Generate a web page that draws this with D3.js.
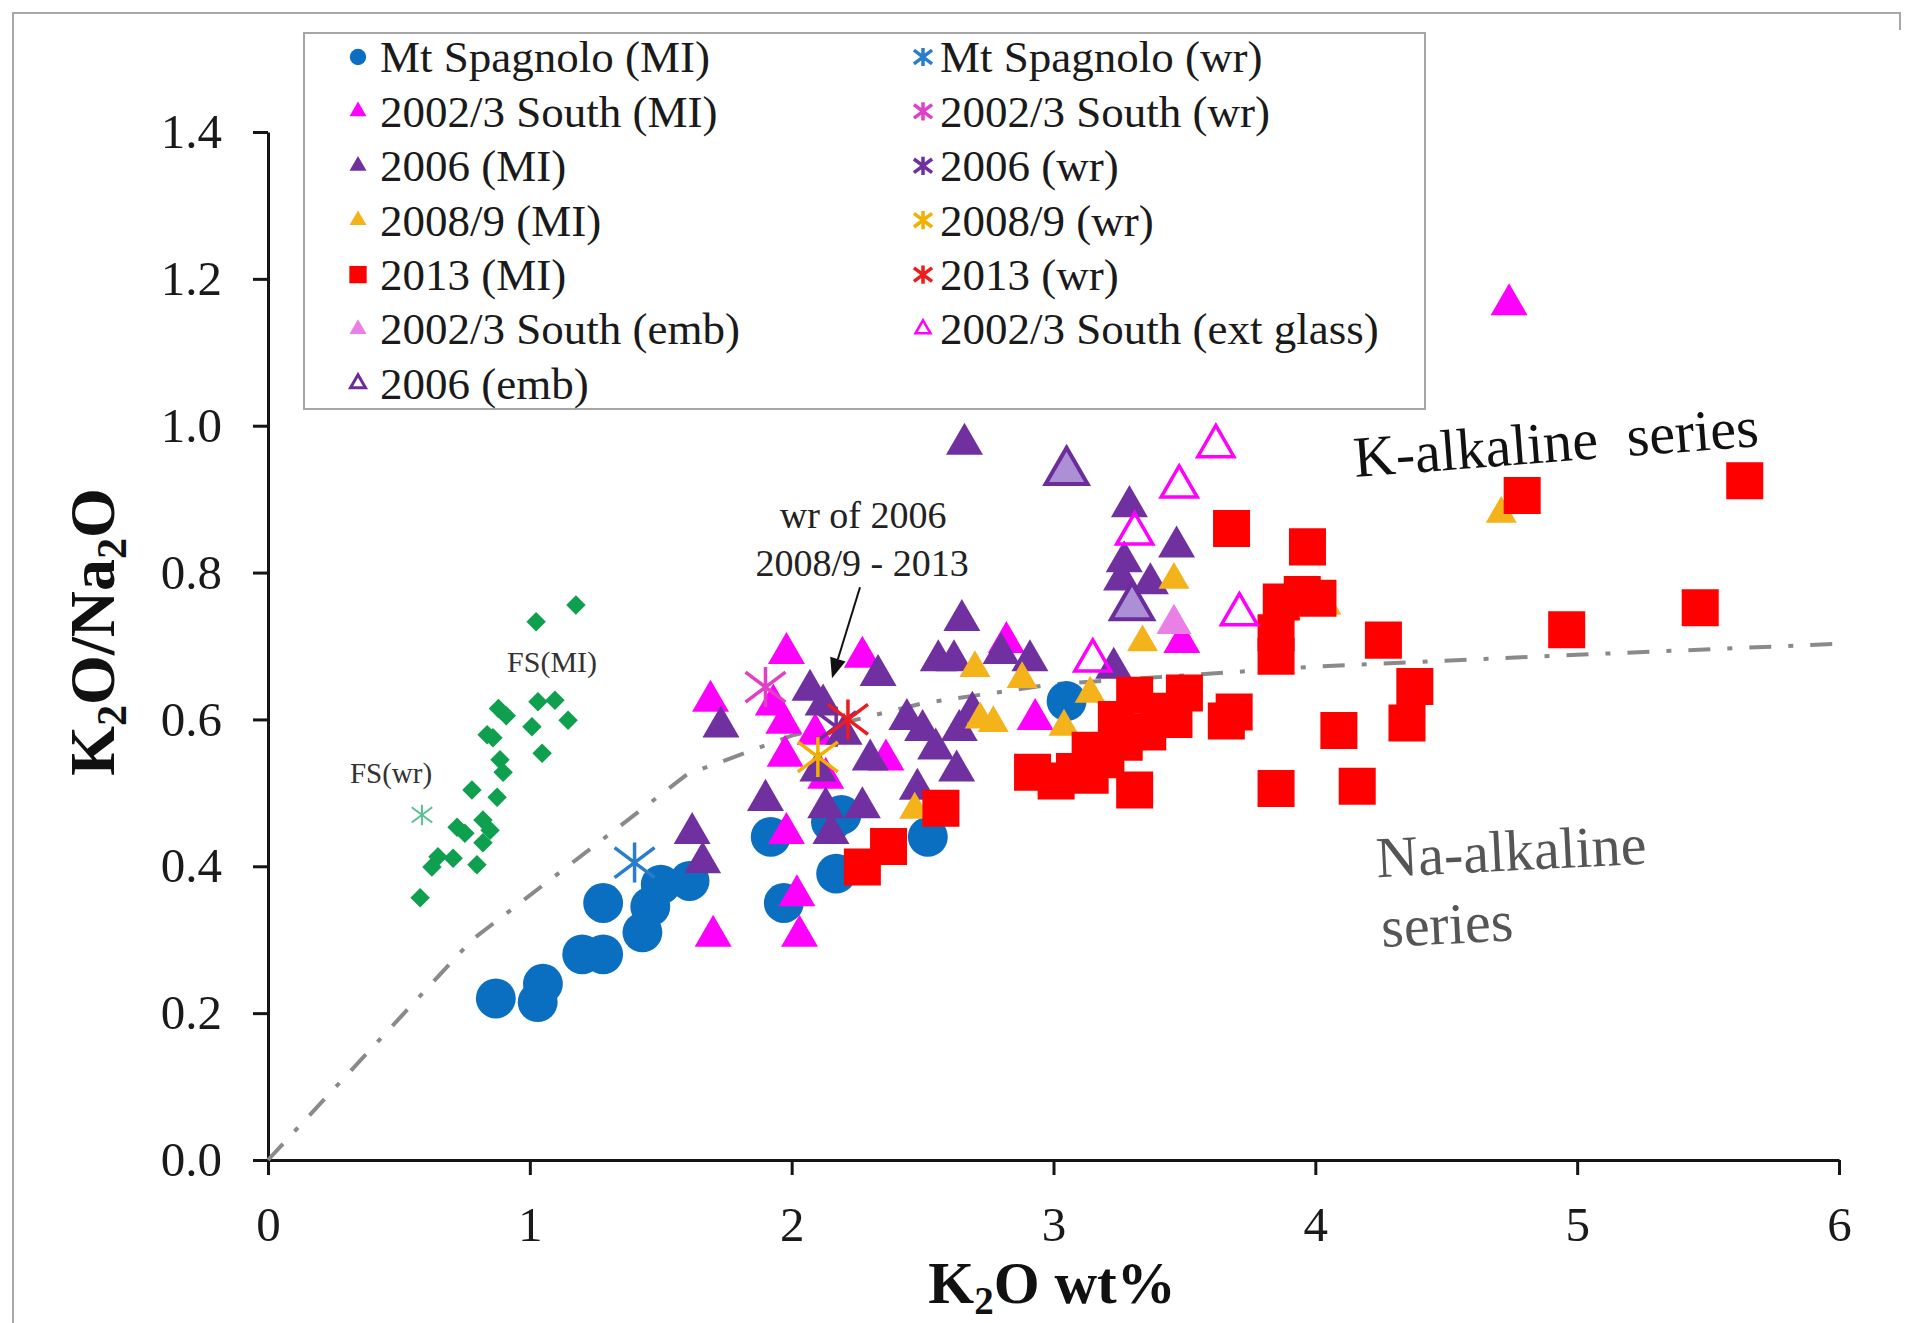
<!DOCTYPE html>
<html>
<head>
<meta charset="utf-8">
<script src="https://cdn.jsdelivr.net/npm/d3@7"></script>
<style>
  html, body { margin: 0; padding: 0; background: #fff; }
  svg { display: block; font-family: "Liberation Serif", "Times New Roman", serif; }
</style>
</head>
<body>
<svg id="chart" width="1914" height="1323"></svg>
<script>
// ---- axis ticks ----
const xTicks = [0, 1, 2, 3, 4, 5, 6];
const yTicks = [0, 0.2, 0.4, 0.6, 0.8, 1.0, 1.2, 1.4];

// ---- series values: [K2O wt%, K2O/Na2O] ----
const mtSpagnoloMI = [[0.87,0.22],[1.03,0.215],[1.05,0.24],[1.20,0.28],[1.28,0.28],[1.28,0.35],[1.43,0.31],[1.46,0.345],[1.50,0.375],[1.61,0.38],[1.92,0.44],[1.97,0.35],[2.17,0.39],[2.19,0.47],[2.15,0.46],[2.52,0.44],[3.05,0.625]];
const mtSpagnoloWR = [[1.40,0.405]];
const south0203MI = [[4.74,1.165],[1.69,0.625],[1.70,0.305],[1.98,0.69],[1.97,0.595],[1.975,0.55],[1.98,0.445],[2.02,0.36],[2.03,0.305],[2.27,0.685],[2.36,0.545],[2.09,0.58],[2.82,0.705],[2.93,0.60],[3.49,0.705],[2.13,0.52],[1.93,0.62]];
const south0203WR = [[1.90,0.644]];
const y2006MI = [[2.66,0.975],[3.29,0.89],[3.47,0.835],[3.27,0.815],[3.26,0.79],[3.37,0.785],[2.65,0.735],[1.73,0.59],[1.62,0.445],[1.66,0.405],[2.07,0.64],[2.33,0.66],[2.56,0.68],[2.62,0.68],[2.91,0.68],[2.44,0.60],[2.50,0.585],[2.64,0.585],[2.55,0.56],[2.30,0.545],[2.10,0.53],[2.63,0.53],[1.90,0.49],[2.13,0.48],[2.27,0.48],[2.48,0.505],[2.15,0.445],[2.69,0.61],[2.20,0.58],[2.80,0.69],[3.23,0.67],[2.12,0.62]];
const y2006WR = [[2.17,0.59]];
const y2008MI = [[4.71,0.88],[3.46,0.79],[3.34,0.705],[2.70,0.67],[2.88,0.655],[2.72,0.60],[2.77,0.595],[3.14,0.635],[3.04,0.59],[2.47,0.477],[4.04,0.755]];
const y2008WR = [[2.10,0.549]];
const y2013MI = [[4.79,0.905],[5.64,0.925],[3.68,0.86],[3.97,0.835],[3.95,0.77],[4.01,0.765],[3.87,0.76],[3.85,0.718],[3.85,0.686],[4.26,0.708],[4.96,0.722],[5.47,0.752],[4.38,0.645],[4.35,0.595],[4.09,0.585],[3.66,0.598],[3.69,0.61],[3.85,0.506],[4.16,0.509],[3.46,0.60],[3.50,0.636],[3.31,0.633],[3.40,0.611],[3.27,0.569],[3.14,0.558],[3.24,0.60],[3.31,0.504],[3.08,0.529],[3.01,0.516],[2.92,0.528],[3.14,0.524],[2.57,0.479],[2.37,0.427],[2.27,0.399],[3.36,0.583],[3.20,0.545]];
const y2013WR = [[2.215,0.60]];
const south0203Emb = [[3.46,0.73]];
const y2006Emb = [[3.05,0.937],[3.30,0.753]];
const south0203ExtGlass = [[3.62,0.972],[3.48,0.917],[3.31,0.853],[3.71,0.743],[3.15,0.68]];
const fsMI = [[1.176,0.756],[1.024,0.733],[0.88,0.615],[0.91,0.605],[1.031,0.624],[1.096,0.626],[1.008,0.590],[1.146,0.599],[0.837,0.579],[0.859,0.575],[1.047,0.554],[0.886,0.545],[0.898,0.528],[0.779,0.504],[0.875,0.494],[0.821,0.463],[0.722,0.453],[0.752,0.445],[0.848,0.449],[0.821,0.432],[0.649,0.413],[0.707,0.411],[0.626,0.399],[0.798,0.402],[0.581,0.357]];
const fsWR = [[0.588,0.470]];

// K-alkaline / Na-alkaline divide
const divideLine = [[0,0],[0.78,0.30],[1.6,0.525],[2.0,0.578],[2.5,0.622],[3,0.648],[4,0.672],[5,0.688],[6,0.703]];

// ---- scales ----
const svg = d3.select("#chart");
const x = d3.scaleLinear().domain([0, 6]).range([268, 1839]);
const y = d3.scaleLinear().domain([0, 1.4]).range([1160, 132]);

// ---- symbol helpers ----
const triArea = w => w * w * Math.sqrt(3) / 4;
const asterisk = {
  draw(ctx, size) {
    const r = Math.sqrt(size) / 2;
    ctx.moveTo(0, -r); ctx.lineTo(0, r);
    ctx.moveTo(-r, -r * 0.75); ctx.lineTo(r, r * 0.75);
    ctx.moveTo(-r, r * 0.75); ctx.lineTo(r, -r * 0.75);
  }
};
const diamond = {
  draw(ctx, size) {
    const h = Math.sqrt(size) / 2;
    ctx.moveTo(0, -h); ctx.lineTo(h, 0); ctx.lineTo(0, h); ctx.lineTo(-h, 0); ctx.closePath();
  }
};

// ---- outer frame (top and left edges, short drop at top right) ----
svg.append("path").attr("d", "M13,1323V13H1900V30")
  .attr("fill", "none").attr("stroke", "#a8a8a8").attr("stroke-width", 2);

// ---- axes ----
const gx = svg.append("g").attr("transform", `translate(0,${y(0)})`)
  .call(d3.axisBottom(x).tickValues(xTicks).tickFormat(d3.format("d"))
    .tickSize(15).tickSizeOuter(0).tickPadding(31));
const gy = svg.append("g").attr("transform", `translate(${x(0)},0)`)
  .call(d3.axisLeft(y).tickValues(yTicks).tickFormat(d3.format(".1f"))
    .tickSize(15).tickSizeOuter(0).tickPadding(31));
[gx, gy].forEach(g => {
  g.attr("font-family", "Liberation Serif, Times New Roman, serif").attr("font-size", 49);
  g.select(".domain").attr("stroke", "#151515").attr("stroke-width", 3);
  g.selectAll(".tick line").attr("stroke", "#151515").attr("stroke-width", 3);
  g.selectAll(".tick text").attr("fill", "#1a1a1a");
});

// ---- axis titles ----
const xt = svg.append("text").attr("x", 1052).attr("y", 1303).attr("text-anchor", "middle")
  .attr("font-size", 59).attr("font-weight", "bold").attr("fill", "#111");
xt.append("tspan").text("K");
xt.append("tspan").text("2").attr("font-size", 39).attr("dy", 11);
xt.append("tspan").text("O wt%").attr("dy", -11);

const yt = svg.append("text").attr("transform", "translate(114,632) rotate(-90)")
  .attr("text-anchor", "middle").attr("font-size", 64).attr("font-weight", "bold").attr("fill", "#111");
yt.append("tspan").text("K");
yt.append("tspan").text("2").attr("font-size", 42).attr("dy", 12);
yt.append("tspan").text("O/Na").attr("dy", -12);
yt.append("tspan").text("2").attr("font-size", 42).attr("dy", 12);
yt.append("tspan").text("O").attr("dy", -12);

// ---- divide line ----
svg.append("path").datum(divideLine)
  .attr("d", d3.line().x(d => x(d[0])).y(d => y(d[1])))
  .attr("fill", "none").attr("stroke", "#8a8a8a").attr("stroke-width", 4)
  .attr("stroke-dasharray", "22,17,5,17");

// ---- series (draw order) ----
const series = [
  { name: "FS(MI)", data: fsMI, type: diamond, size: 380, fill: "#0ea04f", stroke: "none" },
  { name: "FS(wr)", data: fsWR, type: asterisk, size: 420, fill: "none", stroke: "#5cc08e", sw: 2 },
  { name: "Mt Spagnolo (MI)", data: mtSpagnoloMI, type: d3.symbolCircle, size: 1250, fill: "#0b6fc1", stroke: "none", legend: [0,0], lsize: 210 },
  { name: "2002/3 South (MI)", data: south0203MI, type: d3.symbolTriangle, size: triArea(37), fill: "#ff00ff", stroke: "none", legend: [0,1], lsize: triArea(17) },
  { name: "2006 (MI)", data: y2006MI, type: d3.symbolTriangle, size: triArea(37), fill: "#7030a0", stroke: "none", legend: [0,2], lsize: triArea(17) },
  { name: "2008/9 (MI)", data: y2008MI, type: d3.symbolTriangle, size: triArea(31), fill: "#f4b21b", stroke: "none", legend: [0,3], lsize: triArea(17) },
  { name: "2013 (MI)", data: y2013MI, type: d3.symbolSquare, size: 1370, fill: "#ff0000", stroke: "none", legend: [0,4], lsize: 300 },
  { name: "2002/3 South (emb)", data: south0203Emb, type: d3.symbolTriangle, size: triArea(35), fill: "#ea80e6", stroke: "none", legend: [0,5], lsize: triArea(17) },
  { name: "2006 (emb)", data: y2006Emb, type: d3.symbolTriangle, size: triArea(42), fill: "#ad8fd6", stroke: "#6b2c9c", sw: 4, legend: [0,6], lsize: triArea(15), lsw: 3, lfill: "none" },
  { name: "2002/3 South (ext glass)", data: south0203ExtGlass, type: d3.symbolTriangle, size: triArea(36), fill: "none", stroke: "#ff00ff", sw: 3.5, legend: [1,5], lsize: triArea(15), lsw: 2.5 },
  { name: "Mt Spagnolo (wr)", data: mtSpagnoloWR, type: asterisk, size: 1600, fill: "none", stroke: "#2a7dcc", sw: 3.5, legend: [1,0], lsize: 330 },
  { name: "2002/3 South (wr)", data: south0203WR, type: asterisk, size: 1600, fill: "none", stroke: "#e040c8", sw: 3.5, legend: [1,1], lsize: 330 },
  { name: "2006 (wr)", data: y2006WR, type: asterisk, size: 1600, fill: "none", stroke: "#7030a0", sw: 3.5, legend: [1,2], lsize: 330 },
  { name: "2008/9 (wr)", data: y2008WR, type: asterisk, size: 1600, fill: "none", stroke: "#f2b000", sw: 3.5, legend: [1,3], lsize: 330 },
  { name: "2013 (wr)", data: y2013WR, type: asterisk, size: 1600, fill: "none", stroke: "#ee1c1c", sw: 3.5, legend: [1,4], lsize: 330 }
];

series.forEach(s => {
  svg.append("g").selectAll("path").data(s.data).join("path")
    .attr("transform", d => `translate(${x(d[0])},${y(d[1])})`)
    .attr("d", d3.symbol().type(s.type).size(s.size)())
    .attr("fill", s.fill).attr("stroke", s.stroke).attr("stroke-width", s.sw || 0)
    .attr("stroke-linejoin", "miter");
});

// ---- annotations ----
const note = (txt, xv, yv, size, opts = {}) => {
  const t = svg.append("text").attr("x", x(xv)).attr("y", y(yv)).attr("font-size", size)
    .attr("fill", opts.fill || "#1a1a1a").attr("text-anchor", opts.anchor || "start").text(txt);
  if (opts.rotate) t.attr("transform", `rotate(${opts.rotate},${x(xv)},${y(yv)})`);
  return t;
};
note("FS(MI)", 0.913, 0.665, 30, { fill: "#333" });
note("FS(wr)", 0.313, 0.513, 29, { fill: "#333" });
note("wr of 2006", 2.273, 0.861, 38, { anchor: "middle", fill: "#222" });
note("2008/9 - 2013", 2.269, 0.795, 38, { anchor: "middle", fill: "#222" });
note("K-alkaline  series", 4.152, 0.930, 58, { rotate: -4.4, fill: "#111" }).style("white-space", "pre");
note("Na-alkaline", 4.236, 0.385, 58, { rotate: -2.9, fill: "#555" });
note("series", 4.255, 0.290, 58, { rotate: -2.9, fill: "#555" });

// arrow toward the whole-rock cluster
const arrowFrom = [2.261, 0.780], arrowTo = [2.154, 0.656];
{
  const x1 = x(arrowFrom[0]), y1 = y(arrowFrom[1]), x2 = x(arrowTo[0]), y2 = y(arrowTo[1]);
  const ang = Math.atan2(y2 - y1, x2 - x1), L = 20, W = 8;
  const bx = x2 - L * Math.cos(ang), by = y2 - L * Math.sin(ang);
  svg.append("line").attr("x1", x1).attr("y1", y1).attr("x2", bx).attr("y2", by)
    .attr("stroke", "#111").attr("stroke-width", 2);
  svg.append("path").attr("d",
    `M${x2},${y2}L${bx + W * Math.sin(ang)},${by - W * Math.cos(ang)}L${bx - W * Math.sin(ang)},${by + W * Math.cos(ang)}Z`)
    .attr("fill", "#111");
}

// ---- legend ----
const legendBox = { x: 304, y: 33, w: 1121, h: 376 };
const legendCols = [{ mx: 358, tx: 380 }, { mx: 923, tx: 940 }];
const legendRow0 = 57, legendStep = 54.4;
const lg = svg.append("g");
lg.append("rect").attr("x", legendBox.x).attr("y", legendBox.y).attr("width", legendBox.w).attr("height", legendBox.h)
  .attr("fill", "#fff").attr("stroke", "#a6a6a6").attr("stroke-width", 2);
series.filter(s => s.legend).forEach(s => {
  const col = legendCols[s.legend[0]], cy = legendRow0 + s.legend[1] * legendStep;
  lg.append("path").attr("transform", `translate(${col.mx},${cy})`)
    .attr("d", d3.symbol().type(s.type).size(s.lsize)())
    .attr("fill", s.lfill || s.fill).attr("stroke", s.stroke)
    .attr("stroke-width", s.lsw || s.sw || 0);
  lg.append("text").attr("x", col.tx).attr("y", cy).attr("dy", "0.34em")
    .attr("font-size", 45).attr("fill", "#1a1a1a").text(s.name);
});
</script>
</body>
</html>
